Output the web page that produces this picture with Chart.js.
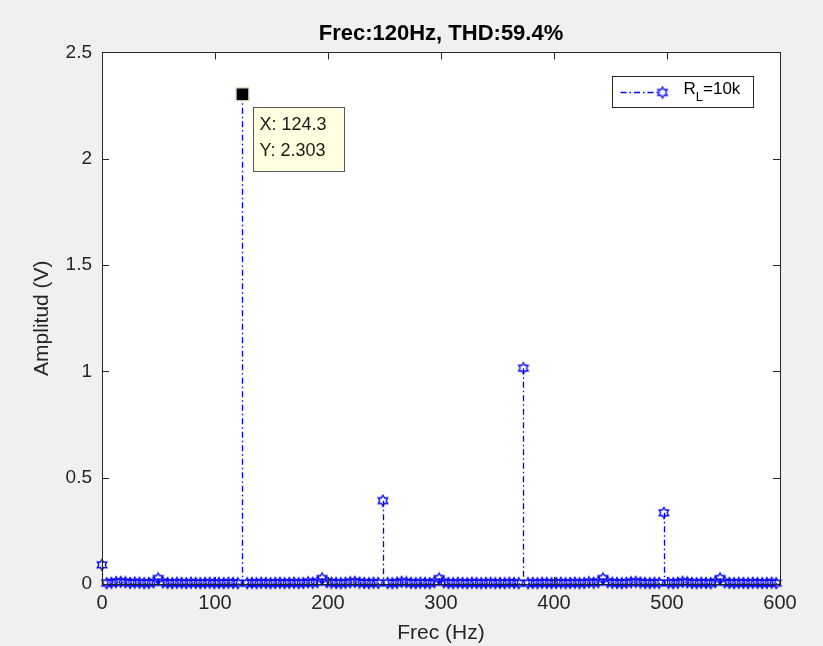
<!DOCTYPE html>
<html>
<head>
<meta charset="utf-8">
<script src="https://cdn.jsdelivr.net/npm/chart.js@4.4.1/dist/chart.umd.min.js"></script>
<style>
  html, body { margin: 0; padding: 0; background: #f0f0f0; }
  #wrap { width: 823px; height: 646px; }
</style>
</head>
<body>
<div id="wrap"><canvas id="myChart" width="823" height="646"></canvas></div>
<script>
// FFT bin spacing (Hz) - the tip shows bin 30 at 124.3 Hz
const binStep = 124.3 / 30;

// amplitude of each bin (V)
const amplitudes = [
  0.090, 0.004, 0.006, 0.009, 0.010, 0.008, 0.005, 0.007, 0.006, 0.004,
  0.005, 0.008, 0.026, 0.008, 0.005, 0.004, 0.006, 0.005, 0.004, 0.006,
  0.005, 0.004, 0.005, 0.006, 0.004, 0.005, 0.004, 0.006, 0.005, 0.004,
  2.303, 0.004, 0.005, 0.004, 0.006, 0.005, 0.004, 0.005, 0.006, 0.004,
  0.005, 0.006, 0.004, 0.005, 0.008, 0.006, 0.009, 0.026, 0.009, 0.006,
  0.005, 0.004, 0.006, 0.008, 0.010, 0.007, 0.005, 0.004, 0.006, 0.005,
  0.392, 0.005, 0.004, 0.006, 0.010, 0.008, 0.005, 0.004, 0.006, 0.005,
  0.004, 0.009, 0.026, 0.008, 0.005, 0.004, 0.006, 0.005, 0.004, 0.006,
  0.005, 0.004, 0.005, 0.006, 0.004, 0.005, 0.004, 0.006, 0.005, 0.004,
  1.015, 0.004, 0.005, 0.004, 0.006, 0.005, 0.004, 0.005, 0.006, 0.004,
  0.005, 0.006, 0.004, 0.005, 0.008, 0.006, 0.009, 0.026, 0.009, 0.006,
  0.005, 0.004, 0.006, 0.008, 0.010, 0.007, 0.005, 0.004, 0.006, 0.005,
  0.335, 0.005, 0.004, 0.006, 0.010, 0.008, 0.005, 0.004, 0.006, 0.005,
  0.004, 0.009, 0.026, 0.008, 0.005, 0.004, 0.006, 0.005, 0.004, 0.006,
  0.005, 0.004, 0.005, 0.006, 0.004
];

const xTicks = [0, 100, 200, 300, 400, 500, 600];
const yTicks = [0, 0.5, 1, 1.5, 2, 2.5];

const tipIndex = 30;           // data tip on the fundamental
const seriesLabel = 'R';       // legend: R with subscript L
const seriesSub = 'L';
const seriesRest = '=10k';

const FONT = '"Liberation Sans", Arial, Helvetica, sans-serif';
const AXIS_COLOR = '#262626';
const BLUE = '#0000ff';

const points = amplitudes.map((a, i) => ({ x: i * binStep, y: a }));

// hexagram marker like matlab 'h'
function makeHexagram(r) {
  const size = Math.ceil(r * 2 + 3);
  const c = document.createElement('canvas');
  c.width = size; c.height = size;
  const g = c.getContext('2d');
  const cx = size / 2, cy = size / 2;
  g.beginPath();
  for (let k = 0; k < 12; k++) {
    const ang = (-90 + k * 30) * Math.PI / 180;
    const rr = (k % 2 === 0) ? r : r / Math.sqrt(3);
    const px = cx + rr * Math.cos(ang), py = cy + rr * Math.sin(ang);
    if (k === 0) g.moveTo(px, py); else g.lineTo(px, py);
  }
  g.closePath();
  g.strokeStyle = BLUE;
  g.lineWidth = 1.3;
  g.stroke();
  return c;
}
const hexMarker = makeHexagram(5.5);

const DASHDOT = [6, 3, 1.5, 3];

// white plot area + stems behind markers
const stemPlugin = {
  id: 'stems',
  beforeDatasetsDraw(chart) {
    const { ctx, chartArea: a, scales: { x, y } } = chart;
    ctx.save();
    ctx.fillStyle = '#ffffff';
    ctx.fillRect(a.left, a.top, a.right - a.left, a.bottom - a.top);
    const y0 = y.getPixelForValue(0);
    ctx.strokeStyle = BLUE;
    ctx.lineWidth = 1.3;
    ctx.setLineDash(DASHDOT);
    points.forEach(p => {
      const px = Math.round(x.getPixelForValue(p.x)) + 0.5;
      ctx.beginPath();
      ctx.moveTo(px, y.getPixelForValue(p.y));
      ctx.lineTo(px, y0);
      ctx.stroke();
    });
    ctx.restore();
  },
  afterDraw(chart) {
    const { ctx, chartArea: a, scales: { x, y } } = chart;
    ctx.save();
    // box + inward ticks
    ctx.strokeStyle = AXIS_COLOR;
    ctx.lineWidth = 1;
    ctx.strokeRect(Math.round(a.left) + 0.5, Math.round(a.top) + 0.5,
      Math.round(a.right - a.left), Math.round(a.bottom - a.top));
    ctx.beginPath();
    xTicks.forEach(v => {
      const px = Math.round(x.getPixelForValue(v)) + 0.5;
      ctx.moveTo(px, a.bottom); ctx.lineTo(px, a.bottom - 7);
      ctx.moveTo(px, a.top); ctx.lineTo(px, a.top + 7);
    });
    yTicks.forEach(v => {
      const py = Math.round(y.getPixelForValue(v)) + 0.5;
      ctx.moveTo(a.left, py); ctx.lineTo(a.left + 7, py);
      ctx.moveTo(a.right, py); ctx.lineTo(a.right - 7, py);
    });
    ctx.stroke();

    // data tip
    const tp = points[tipIndex];
    const tx = x.getPixelForValue(tp.x), ty = y.getPixelForValue(tp.y);
    ctx.fillStyle = '#000000';
    ctx.strokeStyle = '#d8d8b0';
    ctx.fillRect(tx - 6, ty - 6, 12, 12);
    ctx.strokeRect(tx - 6.5, ty - 6.5, 13, 13);
    const bx = Math.round(tx) + 11.5, by = Math.round(ty) + 13.5;
    ctx.fillStyle = '#ffffe1';
    ctx.fillRect(bx, by, 91, 64);
    ctx.strokeStyle = '#555555';
    ctx.strokeRect(bx, by, 91, 64);
    ctx.fillStyle = '#1a1a1a';
    ctx.font = '18px ' + FONT;
    ctx.textBaseline = 'middle';
    ctx.textAlign = 'left';
    ctx.fillText('X: ' + tp.x.toFixed(1), bx + 6, by + 18);
    ctx.fillText('Y: ' + tp.y.toFixed(3), bx + 6, by + 44);

    // legend
    const lx = Math.round(a.right) - 167.5, ly = Math.round(a.top) + 24.5;
    ctx.fillStyle = '#ffffff';
    ctx.fillRect(lx, ly, 141, 31);
    ctx.strokeStyle = AXIS_COLOR;
    ctx.strokeRect(lx, ly, 141, 31);
    ctx.strokeStyle = BLUE;
    ctx.lineWidth = 1.3;
    ctx.setLineDash(DASHDOT);
    ctx.beginPath();
    ctx.moveTo(lx + 8, ly + 16); ctx.lineTo(lx + 46, ly + 16);
    ctx.stroke();
    ctx.setLineDash([]);
    ctx.drawImage(hexMarker, lx + 50 - hexMarker.width / 2, ly + 16 - hexMarker.height / 2);
    ctx.fillStyle = '#000000';
    ctx.font = '17px ' + FONT;
    ctx.fillText(seriesLabel, lx + 71, ly + 13);
    let w = ctx.measureText(seriesLabel).width;
    ctx.font = '13px ' + FONT;
    ctx.fillText(seriesSub, lx + 71 + w, ly + 21);
    w += ctx.measureText(seriesSub).width;
    ctx.font = '17px ' + FONT;
    ctx.fillText(seriesRest, lx + 71 + w, ly + 13);
    ctx.restore();
  }
};

const ctx = document.getElementById('myChart').getContext('2d');
new Chart(ctx, {
  type: 'scatter',
  data: {
    datasets: [{
      label: 'RL=10k',
      data: points,
      pointStyle: hexMarker,
      pointRadius: 6,
      showLine: false,
      clip: false
    }]
  },
  options: {
    responsive: false,
    animation: false,
    events: [],
    layout: { padding: { left: 0, right: 43, top: 0, bottom: 0 } },
    plugins: {
      legend: { display: false },
      tooltip: { enabled: false },
      title: {
        display: true,
        text: 'Frec:120Hz, THD:59.4%',
        fullSize: false,
        color: '#000000',
        font: { family: FONT, size: 22, weight: 'bold' },
        padding: { top: 21, bottom: 5 }
      }
    },
    scales: {
      x: {
        type: 'linear',
        min: 0, max: 600,
        afterBuildTicks: s => { s.ticks = xTicks.map(v => ({ value: v })); },
        afterFit: s => { s.height = 62; },
        grid: { display: false, drawTicks: false },
        border: { display: false },
        ticks: { color: AXIS_COLOR, padding: 7, font: { family: FONT, size: 20 } },
        title: { display: true, text: 'Frec (Hz)', color: AXIS_COLOR, padding: { top: 2, bottom: 0 }, font: { family: FONT, size: 21 } }
      },
      y: {
        type: 'linear',
        min: 0, max: 2.5,
        afterBuildTicks: s => { s.ticks = yTicks.map(v => ({ value: v })); },
        afterFit: s => { s.width = 102; },
        grid: { display: false, drawTicks: false },
        border: { display: false },
        ticks: {
          color: AXIS_COLOR, padding: 10, font: { family: FONT, size: 19 },
          callback: v => String(v)
        },
        title: { display: true, text: 'Amplitud (V)', color: AXIS_COLOR, padding: { top: 30, bottom: 0 }, font: { family: FONT, size: 21 } }
      }
    }
  },
  plugins: [stemPlugin]
});
</script>
</body>
</html>
